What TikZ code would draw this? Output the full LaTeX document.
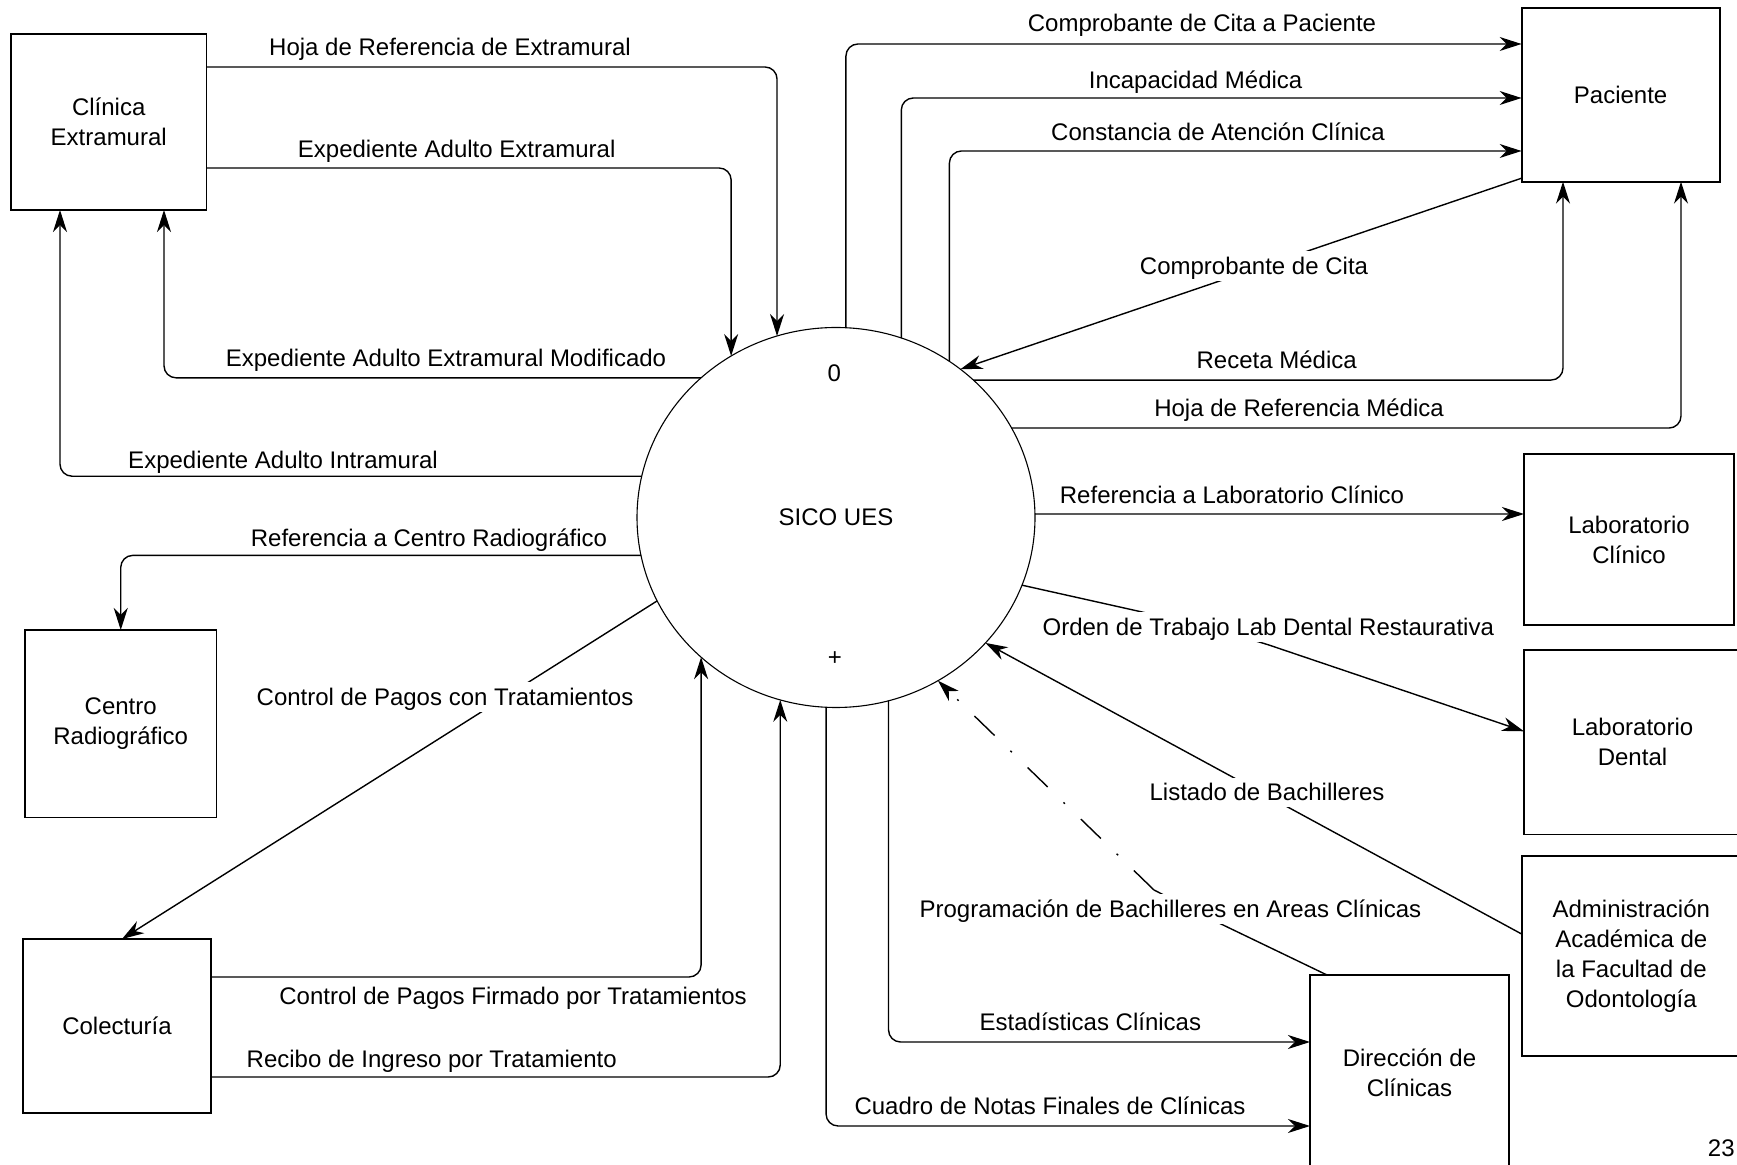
\documentclass[tikz,border=0pt]{standalone}
\usepackage{fontspec}
\setmainfont{Liberation Sans}
\usetikzlibrary{arrows.meta,shapes.geometric}
\begin{document}
\begin{tikzpicture}[x=0.5pt,y=-0.5pt,
  every node/.append style={font=\fontsize{12pt}{15pt}\selectfont},
  entity/.style={draw, line width=0.9pt, inner sep=0pt, outer sep=0pt, align=center},
  procnode/.style={ellipse, draw, line width=0.55pt, inner sep=0pt, outer sep=0pt, minimum width=199pt, minimum height=190pt},
  flowline/.style={line width=0.7pt, rounded corners=6pt, -{Stealth[length=11pt,width=7pt,inset=3.5pt]}},
  linkline/.style={line width=0.7pt},
  lbl/.style={inner sep=0pt, text height=8.6pt, text depth=0pt},
  lblw/.style={fill=white, inner sep=3pt, text height=8.6pt, text depth=0pt},
  dashdotline/.style={dash pattern=on 14pt off 11pt on 1pt off 11pt}
]
\useasboundingbox (0,0) rectangle (1737,1165);

% entities
\node[entity, minimum width=97.75pt, minimum height=88pt] (clin) at (108.75,122) {Clínica\\Extramural};
\node[entity, minimum width=95.75pt, minimum height=93.75pt] (centro) at (120.75,723.75) {Centro\\Radiográfico};
\node[entity, minimum width=94pt, minimum height=87pt] (colec) at (117,1026) {Colecturía};
\node[entity, minimum width=99pt, minimum height=86.7pt] (pac) at (1620.6,95) {Paciente};
\node[entity, minimum width=105pt, minimum height=85.5pt] (labc) at (1629,539.5) {Laboratorio\\Clínico};
\node[entity, minimum width=108.5pt, minimum height=92.3pt] (labd) at (1632.5,742.3) {Laboratorio\\Dental};
\node[entity, minimum width=109.7pt, minimum height=100pt] (admin) at (1631.3,956) {Administración\\Académica de\\la Facultad de\\Odontología};
\node[entity, minimum width=99.5pt, minimum height=97.5pt] (dir) at (1409.5,1072.5) {Dirección de\\Clínicas};

% process
\node[procnode] (sico) at (836,517.5) {SICO UES};
\node (n0) at (834.3,373.3) {0};
\node (nplus) at (835,658.3) {+};
\node[anchor=east, inner sep=0pt] (pg) at (1735,1148) {23};

% bend points
\coordinate (pb1) at (1221,924);
\coordinate (pb2) at (1154,890);
\coordinate (ob1) at (1151,614);
\coordinate (ob2) at (1260,642);

% left side flows
\draw[flowline] ([yshift=-16.5pt]clin.north east) -| (sico.108.64);
\draw[flowline] ([yshift=-67pt]clin.north east) -| (sico.123.74);
\draw[flowline] (sico.134.08) -| ([xshift=76.5pt]clin.south west);
\draw[flowline] (sico.168.83) -| ([xshift=24.5pt]clin.south west);
\draw[flowline] (sico.191.77) -| (centro.north);
\draw[flowline] (sico.205.79) -- ([xshift=2.5pt]colec.north);
\draw[flowline] ([yshift=-19pt]colec.north east) -| (sico.226.73);
\draw[flowline] ([yshift=-69pt]colec.north east) -| (sico.253.55);

% bottom flows
\draw[flowline] (sico.267.29) |- ([yshift=-75.5pt]dir.north west);
\draw[flowline] (sico.286.14) |- ([yshift=-33.5pt]dir.north west);
\draw[linkline] ([xshift=8.5pt]dir.north west) -- (pb1) -- (pb2);
\draw[flowline, dashdotline] (pb2) -- (sico.302.12);
\draw[flowline] ([yshift=-39pt]admin.north west) -- (sico.320.95);
\draw[flowline] (sico.340.15) -- (ob1) -- (ob2) -- ([yshift=5.5pt]labd.west);
\draw[flowline] (sico.1.008) -- ([yshift=-30pt]labc.north west);

% right / top flows
\draw[flowline] (sico.27.02) -| ([xshift=79.7pt]pac.south west);
\draw[flowline] (sico.45.04) -| ([xshift=20.7pt]pac.south west);
\draw[flowline] ([yshift=1.75pt]pac.south west) -- (sico.50.11);
\draw[flowline] (sico.54.51) |- ([yshift=-71.35pt]pac.north west);
\draw[flowline] (sico.70.1) |- ([yshift=-44.85pt]pac.north west);
\draw[flowline] (sico.87.89) |- ([yshift=-17.85pt]pac.north west);

% labels
\node[lbl] (l1) at (450,46.7) {Hoja de Referencia de Extramural};
\node[lbl] (l2) at (456.7,149) {Expediente Adulto Extramural};
\node[lbl] (l3) at (446,358.3) {Expediente Adulto Extramural Modificado};
\node[lbl] (l4) at (283,460) {Expediente Adulto Intramural};
\node[lbl] (l5) at (429,538) {Referencia a Centro Radiográfico};
\node[lblw] (l6) at (445,697) {Control de Pagos con Tratamientos};
\node[lbl] (l7) at (513,995.8) {Control de Pagos Firmado por Tratamientos};
\node[lbl] (l8) at (431.7,1058.5) {Recibo de Ingreso por Tratamiento};
\node[lbl] (l9) at (1050,1105.6) {Cuadro de Notas Finales de Clínicas};
\node[lbl] (l10) at (1090.4,1022) {Estadísticas Clínicas};
\node[lblw] (l11) at (1170.4,909) {Programación de Bachilleres en Areas Clínicas};
\node[lblw] (l12) at (1267,792.4) {Listado de Bachilleres};
\node[lblw] (l13) at (1268.3,627) {Orden de Trabajo Lab Dental Restaurativa};
\node[lbl] (l14) at (1232,495) {Referencia a Laboratorio Clínico};
\node[lbl] (l15) at (1299,408.3) {Hoja de Referencia Médica};
\node[lbl] (l16) at (1276.7,360) {Receta Médica};
\node[lblw] (l17) at (1254,266) {Comprobante de Cita};
\node[lbl] (l18) at (1218,131.7) {Constancia de Atención Clínica};
\node[lbl] (l19) at (1195.6,80) {Incapacidad Médica};
\node[lbl] (l20) at (1202,23.3) {Comprobante de Cita a Paciente};
\end{tikzpicture}
\end{document}
